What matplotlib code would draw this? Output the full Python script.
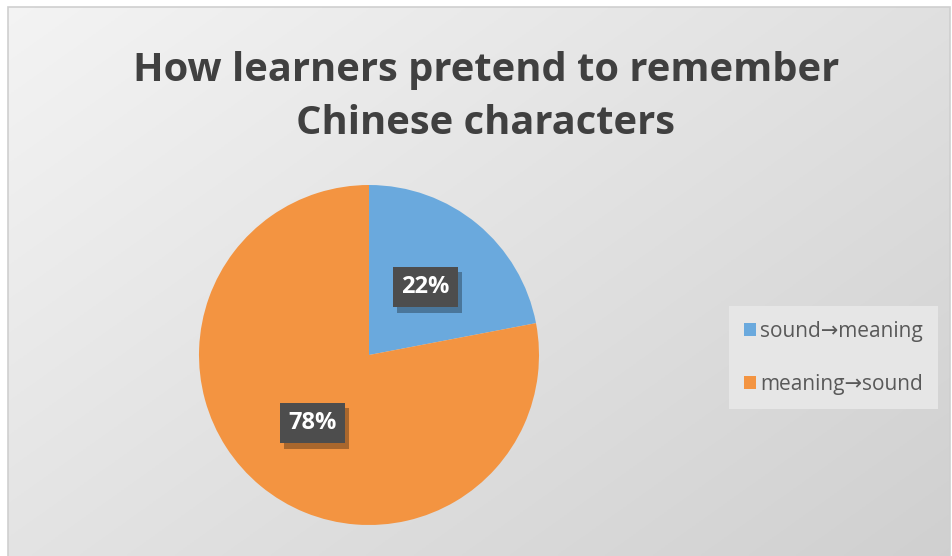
import numpy as np
import matplotlib
matplotlib.use("Agg")
import matplotlib.pyplot as plt
import matplotlib.patheffects as pe
from matplotlib.patches import Rectangle

# data
labels = ["sound\u2192meaning", "meaning\u2192sound"]
shares = [22, 78]
colors = ["#6aa9dd", "#f39441"]
title = "How learners pretend to remember\nChinese characters"

FONT = ["Open Sans", "DejaVu Sans"]

W, H = 953, 556
fig = plt.figure(figsize=(W / 100, H / 100), dpi=100)
fig.patch.set_facecolor("white")

# chart area background with soft diagonal gradient
bg = fig.add_axes([0, 0, 1, 1], zorder=0)
bg.set_axis_off()
yy, xx = np.mgrid[0:1:200j, 0:1:300j]
t = (xx * 0.55 + yy * 0.45)
c0, c1 = np.array([0.955, 0.955, 0.955]), np.array([0.815, 0.815, 0.815])
img = c0 + (c1 - c0) * t[..., None]
x0, y0 = 8 / W, 0
x1, y1 = 950 / W, 1 - 7 / H
bg.imshow(img, extent=[x0, x1, y0, y1], origin="upper", aspect="auto")
bg.add_patch(Rectangle((x0, -0.01), x1 - x0, y1 + 0.01, fill=False,
                       edgecolor="#cfcfcf", linewidth=1.2))
bg.set_xlim(0, 1)
bg.set_ylim(0, 1)

fig.text(486 / W, 1 - 97 / H, title, ha="center", va="center",
         fontsize=28.7, fontweight="bold", color="#404040",
         family=FONT, linespacing=1.5)

# pie
cx, cy, r = 369, 556 - 355, 170
ax = fig.add_axes([(cx - r) / W, (cy - r) / H, 2 * r / W, 2 * r / H], zorder=1)
wedges, _, autotexts = ax.pie(shares, colors=colors, startangle=90, counterclock=False,
                              autopct="%d%%", pctdistance=0.52, radius=1,
                              wedgeprops=dict(linewidth=0))
ax.set_xlim(-1, 1)
ax.set_ylim(-1, 1)
ax.set_aspect("auto")
ax.set_axis_off()

for at in autotexts:
    at.set_color("white")
    at.set_fontsize(17)
    at.set_fontweight("bold")
    at.set_family(FONT)
    at.set_bbox(dict(boxstyle="square,pad=0.35", facecolor="#4d4d4d", edgecolor="none"))
    at.get_bbox_patch().set_path_effects([
        pe.SimplePatchShadow(offset=(3, -4), shadow_rgbFace="#000000", alpha=0.3),
        pe.Normal()])

leg = fig.legend(wedges, labels, loc="upper left",
                 bbox_to_anchor=(729 / W, 1 - 306 / H), borderaxespad=0,
                 frameon=True, fancybox=False, facecolor="#e6e6e6", edgecolor="none",
                 framealpha=1, borderpad=0.7, labelspacing=1.55,
                 handlelength=0.6, handleheight=0.6, handletextpad=0.2,
                 prop={"family": FONT, "size": 15})
for txt in leg.get_texts():
    txt.set_color("#595959")

fig.savefig("out.png", dpi=100)
